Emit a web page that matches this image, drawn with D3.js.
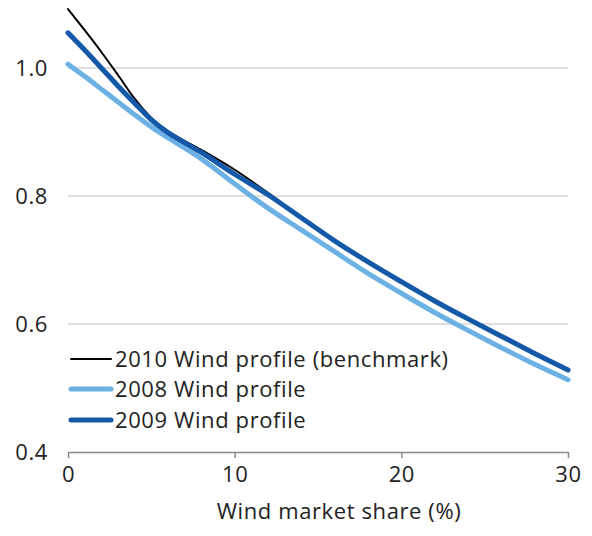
<!DOCTYPE html>
<html><head><meta charset="utf-8">
<script src="https://cdn.jsdelivr.net/npm/d3@7"></script>
<style>body{margin:0;background:#fff}svg{display:block}text{font-family:"Open Sans",sans-serif;fill:#222;letter-spacing:0.6px}</style>
</head><body><svg id="c" width="592" height="536"></svg>
<script>
const share = [0,1,2,3,4,5,6,8,10,12,14,16,18,20,22,24,26,28,30];
const wind2010 = [1.092,1.059,1.025,0.989,0.952,0.922,0.901,0.872,0.841,0.805,0.766,0.730,0.697,0.666,0.636,0.608,0.581,0.554,0.528];
const wind2008 = [1.006,0.987,0.967,0.947,0.927,0.908,0.891,0.858,0.819,0.781,0.747,0.713,0.679,0.648,0.618,0.590,0.563,0.537,0.513];
const wind2009 = [1.055,1.028,1.000,0.972,0.945,0.919,0.899,0.868,0.834,0.802,0.766,0.730,0.697,0.666,0.636,0.608,0.581,0.554,0.528];
const yTicks = [0.4,0.6,0.8,1.0];
const xTicks = [0,10,20,30];
const seriesNames = ["2010 Wind profile (benchmark)","2008 Wind profile","2009 Wind profile"];

const FS = 22;
const svg = d3.select("#c");
const x = d3.scaleLinear().domain([0,30]).range([68,568]);
const y = d3.scaleLinear().domain([0.4,1.1]).range([452,4]);

// gridlines
svg.append("g").selectAll("line").data(yTicks.filter(d=>d>0.4)).join("line")
  .attr("x1",x(0)).attr("x2",x(30)).attr("y1",d=>y(d)).attr("y2",d=>y(d))
  .attr("stroke","#d4d4d4").attr("stroke-width",1.5);

// x axis
const xa = svg.append("g").attr("transform",`translate(0,${y(0.4)})`)
  .call(d3.axisBottom(x).tickValues(xTicks).tickSize(6).tickSizeOuter(0).tickPadding(8));
xa.select(".domain").attr("stroke","#8a8a8a").attr("stroke-width",1.5);
xa.selectAll(".tick line").attr("stroke","#8a8a8a").attr("stroke-width",1.5);
xa.selectAll("text").attr("font-size",FS).attr("fill","#222").attr("font-family","'Open Sans',sans-serif");

// y labels
svg.append("g").selectAll("text").data(yTicks).join("text")
  .attr("x",48).attr("y",d=>y(d)).attr("dy","0.35em").attr("text-anchor","end")
  .attr("font-size",FS).text(d=>d.toFixed(1));

// axis title
svg.append("text").attr("x",339).attr("y",519).attr("text-anchor","middle")
  .attr("font-size",FS).text("Wind market share (%)");

const line = vals => d3.line().x((d,i)=>x(share[i])).y(d=>y(d)).curve(d3.curveCatmullRom.alpha(0.5))(vals);

const styles = [
  {vals:wind2010,color:"#000000",w:2},
  {vals:wind2008,color:"#6cb1e3",w:5},
  {vals:wind2009,color:"#1458a8",w:5}
];
// draw order: light, black, dark
[1,0,2].forEach(k=>{
  svg.append("path").attr("d",line(styles[k].vals)).attr("fill","none")
    .attr("stroke",styles[k].color).attr("stroke-width",styles[k].w)
    .attr("stroke-linejoin","round").attr("stroke-linecap","round");
});

// legend
const ly = [359,389,420];
seriesNames.forEach((n,i)=>{
  svg.append("line").attr("x1",71).attr("x2",111).attr("y1",ly[i]).attr("y2",ly[i])
    .attr("stroke",styles[i].color).attr("stroke-width",styles[i].w).attr("stroke-linecap","round");
  svg.append("text").attr("x",115).attr("y",ly[i]).attr("dy","0.35em").attr("font-size",FS).text(n);
});
</script></body></html>
